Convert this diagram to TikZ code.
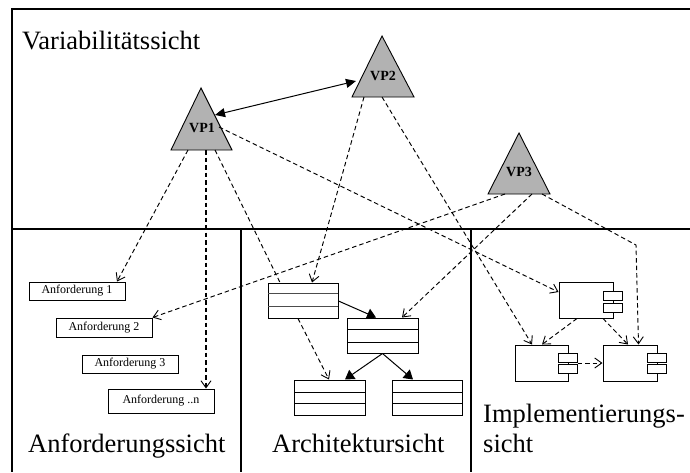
\documentclass[tikz,border=0pt]{standalone}
\usepackage{fontspec}
\setmainfont{Liberation Serif}
\usetikzlibrary{arrows.meta}

\tikzset{
  frameline/.style={line width=1.5pt, black},
  vptri/.style={draw=black, fill=black!30, line width=0.9pt, line join=miter},
  vplabel/.style={font=\fontsize{14}{14}\selectfont\bfseries, inner sep=0pt},
  viewlabel/.style={font=\fontsize{26.5}{30}\selectfont, inner sep=0pt, anchor=base west},
  reqbox/.style={draw=black, line width=1pt, inner sep=0pt,
                 font=\fontsize{12}{12}\selectfont},
  boxline/.style={draw=black, line width=1pt},
  dep/.style={draw=black, line width=0.95pt, dash pattern=on 4.5pt off 3pt,
              -{Straight Barb[length=7pt,width=10pt,line width=0.9pt]}},
  deplain/.style={draw=black, line width=0.95pt, dash pattern=on 4.5pt off 3pt},
  inh/.style={draw=black, line width=1pt, -{Triangle[length=9pt,width=11pt]}},
  link/.style={draw=black, line width=1pt,
               {Triangle[length=10pt,width=9pt]}-{Triangle[length=10pt,width=9pt]}},
}

\begin{document}
\begin{tikzpicture}[x=1pt, y=-1pt]
\useasboundingbox (0,0) rectangle (690,472);

% view frame and partitions
\draw[frameline] (690,9) -- (12,9) -- (12,472);
\draw[frameline] (12,229) -- (690,229);
\draw[frameline] (241,229) -- (241,472);
\draw[frameline] (471,229) -- (471,472);

% view titles
\node[viewlabel] (tvar) at (22,49) {Variabilitätssicht};
\node[viewlabel] (treq) at (28,452) {Anforderungssicht};
\node[viewlabel] (tarch) at (272,452) {Architektursicht};
\node[viewlabel] (timpl) at (483,422) {Implementierungs-};
\node[viewlabel] (timpl2) at (483,452) {sicht};

% variation points
\draw[vptri] (201,88) -- (171,150) -- (232,150) -- cycle;
\draw[vptri] (382,36) -- (352,97) -- (414,97) -- cycle;
\draw[vptri] (519,133) -- (488,194) -- (550,194) -- cycle;
\node[vplabel] (vp1) at (202,128) {VP1};
\node[vplabel] (vp2) at (383,76) {VP2};
\node[vplabel] (vp3) at (519,172) {VP3};

% attachment points on the triangles
\coordinate (vp1a) at (188,150);
\coordinate (vp1b) at (206,150);
\coordinate (vp1c) at (215,150);
\coordinate (vp1r) at (219,127);
\coordinate (vp1t) at (215,115);
\coordinate (vp2l) at (356,81);
\coordinate (vp2a) at (364,97);
\coordinate (vp2b) at (382,97);
\coordinate (vp3a) at (505,194);
\coordinate (vp3b) at (532,194);
\coordinate (vp3c) at (542,194);
\coordinate (bend) at (636,245);

% requirements
\node[reqbox, minimum width=96pt, minimum height=18pt] (r1) at (77,291) {Anforderung 1};
\node[reqbox, minimum width=96pt, minimum height=19pt] (r2) at (104,327.5) {Anforderung 2};
\node[reqbox, minimum width=96pt, minimum height=18pt] (r3) at (130,364) {Anforderung 3};
\node[reqbox, minimum width=106pt, minimum height=24pt] (rn) at (161,401) {Anforderung ..n};

% architecture classes
\node[boxline, minimum width=70pt, minimum height=35pt, inner sep=0pt] (k1) at (303,300.5) {};
\draw[black!70, line width=1pt] (268,293) -- (338,293) (268,306) -- (338,306);
\node[boxline, minimum width=71pt, minimum height=35pt, inner sep=0pt] (k2) at (382.5,335.5) {};
\draw[black, line width=1pt] (347,329) -- (418,329) (347,342) -- (418,342);
\node[boxline, minimum width=71pt, minimum height=35pt, inner sep=0pt] (k3) at (329.5,397.5) {};
\draw[black, line width=1pt] (294,392) -- (365,392) (294,403) -- (365,403);
\node[boxline, minimum width=70pt, minimum height=35pt, inner sep=0pt] (k4) at (427,397.5) {};
\draw[black, line width=1pt] (392,392) -- (462,392) (392,403) -- (462,403);

% implementation components
\node[boxline, minimum width=54pt, minimum height=36pt, inner sep=0pt] (m1) at (586,300) {};
\node[boxline, fill=white, minimum width=19pt, minimum height=9pt, inner sep=0pt] (m1p) at (612.5,295.5) {};
\node[boxline, fill=white, minimum width=19pt, minimum height=9pt, inner sep=0pt] (m1q) at (612.5,307.5) {};
\node[boxline, minimum width=53pt, minimum height=36pt, inner sep=0pt] (m2) at (541.5,363) {};
\node[boxline, fill=white, minimum width=19pt, minimum height=9pt, inner sep=0pt] (m2p) at (567.5,357.5) {};
\node[boxline, fill=white, minimum width=19pt, minimum height=9pt, inner sep=0pt] (m2q) at (567.5,369) {};
\node[boxline, minimum width=54pt, minimum height=36pt, inner sep=0pt] (m3) at (630,363) {};
\node[boxline, fill=white, minimum width=19pt, minimum height=9pt, inner sep=0pt] (m3p) at (656.5,357.5) {};
\node[boxline, fill=white, minimum width=19pt, minimum height=9pt, inner sep=0pt] (m3q) at (656.5,369) {};

% link between variation points
\draw[link] (vp1t) -- (vp2l);

% variation point dependencies
\draw[dep] (vp1a) -- (r1.north -| 117,0);
\draw[dep, line width=1.6pt, -{Straight Barb[length=7pt,width=10pt,line width=0.9pt]}] (vp1b) -- (vp1b |- rn.north);
\draw[deplain] (vp1c) -- (k1.north -| 280,0);
\draw[dep] (vp1r) -- (m1.west |- 0,292);
\draw[dep] (vp2a) -- (k1.north -| 312,0);
\draw[dep] (vp2b) -- (m2.north -| 532,0);
\draw[dep] (vp3a) -- (r2.north east);
\draw[dep] (vp3b) -- (k2.north -| 402,0);
\draw[dep] (vp3c) -- (bend) -- (m3.north -| 638.5,0);

% class relations
\draw[inh] (k1.east |- 0,301) -- (k2.north -| 376,0);
\draw[inh] (k2.south) -- (k3.north -| 345,0);
\draw[inh] (k2.south) -- (k4.north -| 413,0);
\draw[dep] (k1.south -| 298,0) -- (k3.north -| 329,0);

% component relations
\draw[dep] (m1.south -| 577,0) -- (m2.north -| 542,0);
\draw[dep] (m1.south -| 603,0) -- (m3.north -| 628,0);
\draw[dep] (m2p.east |- 0,363) -- (m3.west);
\end{tikzpicture}
\end{document}
